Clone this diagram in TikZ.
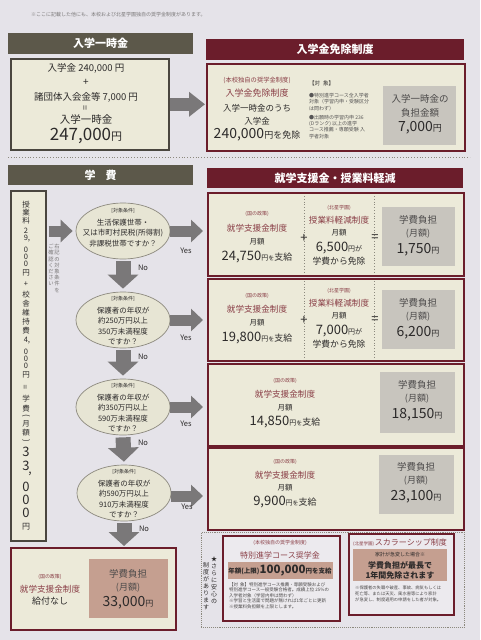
\documentclass[tikz,border=0pt]{standalone}
\usepackage{fontspec}
\setmainfont{Noto Sans CJK JP}
\usetikzlibrary{shapes.geometric,arrows.meta}
\definecolor{bg}{HTML}{E5E3E9}
\definecolor{beige}{HTML}{ECEAD9}
\definecolor{maroon}{HTML}{6B1D2B}
\definecolor{olive}{HTML}{5C584A}
\definecolor{graybox}{HTML}{C8C5BE}
\definecolor{tanbox}{HTML}{C59F90}
\definecolor{ink}{HTML}{2C2A2A}
\definecolor{redtext}{HTML}{8A3F47}
\definecolor{agray}{HTML}{7A7879}
\definecolor{ellfill}{HTML}{E7E5D4}
\definecolor{ellline}{HTML}{8C897E}
\definecolor{darkline}{HTML}{4A463F}
\definecolor{notegray}{HTML}{7A7878}
\definecolor{innerfill}{HTML}{ECEAEE}
\newcommand\myfs[1]{\fontsize{#1}{#1}\selectfont}
\tikzset{
  every node/.style={inner sep=0pt, text=ink},
  hdrO/.style={fill=olive, text=white, font=\myfs{11}\bfseries, minimum height=21pt, anchor=north west},
  hdrM/.style={fill=maroon, text=white, font=\myfs{11}\bfseries, minimum height=21pt, anchor=north west},
  dbox/.style={draw=darkline, line width=1.6pt, fill=beige, anchor=north west},
  mbox/.style={draw=maroon, line width=1.6pt, fill=beige, anchor=north west},
  ibox/.style={draw=maroon, line width=1.5pt, fill=innerfill, anchor=north west},
  gbox/.style={fill=graybox, anchor=north west},
  tbox/.style={fill=tanbox, anchor=north west},
  ell/.style={ellipse, draw=ellline, fill=ellfill, line width=0.7pt, minimum width=94pt, minimum height=56pt},
  topfat/.style={draw=agray, line width=13pt, -{Triangle[length=16pt,width=24pt]}},
  hfat/.style={draw=agray, line width=11pt, -{Triangle[length=12pt,width=22pt]}},
  vfat/.style={draw=agray, line width=15pt, -{Triangle[length=14pt,width=30pt]}},
  rlab/.style={text=redtext},
  tagf/.style={font=\myfs{5}},
  ttl/.style={font=\myfs{8.6}, text=redtext},
  mon/.style={font=\myfs{7.5}},
  gtx/.style={font=\myfs{9.5}, text=ink!85},
  yn/.style={font=\myfs{7.5}},
  etag/.style={font=\myfs{5}},
  ebody/.style={font=\fontsize{7.5}{10.5}\selectfont, align=center},
  sep/.style={draw=ellline, dotted, line width=0.8pt},
}
\begin{document}
\begin{tikzpicture}[x=1pt,y=-1pt]
\useasboundingbox (0,0) rectangle (480,640);
\fill[bg] (0,0) rectangle (480,640);

% note
\node[anchor=west, font=\myfs{5}, text=notegray] (note) at (31,15) {※ここに記載した他にも、本校および北星学園独自の奨学金制度があります。};

% ===== section 1 =====
\node[hdrO, minimum width=185pt] (h1) at (8,33) {入学一時金};
\node[hdrM, minimum width=258pt] (h2) at (206,39) {入学金免除制度};

\node[dbox, minimum width=158pt, minimum height=91pt] (tl) at (10,58) {};
\node[font=\myfs{9.5}] (t1) at (86,68) {入学金 240,000 円};
\node[font=\myfs{10}] (t2) at (86,82) {+};
\node[font=\myfs{9.5}] (t3) at (86,97) {諸団体入会金等 7,000 円};
\node[font=\myfs{9}] (t4) at (86,108) {\rotatebox{90}{=}};
\node[font=\myfs{10.5}] (t5) at (86,119) {入学一時金};
\node (t6) at (86,136) {\myfs{17}247,000\myfs{11}円};

\node[mbox, minimum width=258pt, minimum height=87pt] (tr) at (206,63) {};
\node[font=\myfs{6.3}, rlab] (a1) at (257,80) {(本校独自の奨学金制度)};
\node[font=\myfs{9}, rlab] (a2) at (257,93) {入学金免除制度};
\node[font=\myfs{8.5}] (a3) at (257,108) {入学一時金のうち};
\node[font=\myfs{8.5}] (a4) at (257,121) {入学金};
\node (a5) at (257,135) {\myfs{14}240,000\myfs{9}円を免除};
\node[font=\myfs{5.5}, anchor=west] (a6) at (309,83) {【対\hspace{3pt}象】};
\node[font=\fontsize{5}{6.3}\selectfont, align=left, anchor=north west, text=ink!80] (a7) at (309,93)
  {●特別進学コース全入学者\\対象（学習内申・受験区分\\は問わず）\\[3pt]●出願時の学習内申 236\\(Dランク) 以上の進学\\コース推薦・専願受験 入\\学者対象};
\node[gbox, minimum width=73pt, minimum height=59pt] (g0) at (383,86) {};
\node[gtx] (g0a) at (420,99) {入学一時金の};
\node[gtx] (g0b) at (420,113) {負担金額};
\node (g0c) at (420,128) {\myfs{14}7,000\myfs{9}円};

\draw[topfat, shorten >=1pt] (tl.east) -- (tl.east -| tr.west);

\draw[sep] (8,157) -- (470,157);

% ===== section 2 =====
\node[hdrO, minimum width=185pt, minimum height=20pt] (h3) at (8,165) {学\hspace{10pt}費};
\node[hdrM, minimum width=256pt, minimum height=20pt] (h4) at (207,168) {就学支援金・授業料軽減};

% left vertical box
\node[dbox, minimum width=35pt, minimum height=350pt] (vb) at (10,190) {};
\foreach \ch/\yy [count=\i] in {授/205,業/213,料/221,2/231,9/238,0/250,0/257,0/264,円/273,+/284,校/295,舎/304,維/313,持/322,費/331,4/340,0/352,0/359,0/366,円/375,学/399,費/409,月/424,額/433}
  \node[font=\myfs{7.5}] (v\i) at (26,\yy) {\ch};
\node[font=\myfs{8}] (vc1) at (29,241) {,};
\node[font=\myfs{8}] (vc2) at (29,343) {,};
\node[font=\myfs{8}] (veq) at (26,387) {\rotatebox{90}{=}};
\node[font=\myfs{8}] (vp1) at (26,416) {\rotatebox{-90}{(}};
\node[font=\myfs{8}] (vp2) at (26,441) {\rotatebox{-90}{)}};
\foreach \ch/\yy [count=\i] in {3/452,3/466,0/487,0/500,0/513}
  \node[font=\myfs{13}] (w\i) at (26,\yy) {\ch};
\node[font=\myfs{12}] (wc) at (30,474) {,};
\node[font=\myfs{8}] (wy) at (26,527) {円};

% hint
\node[font=\fontsize{5.3}{6.2}\selectfont, align=center, text=notegray, anchor=north] (hint1) at (57,244) {右\\記\\の\\対\\象\\条\\件\\を};
\node[font=\fontsize{5.3}{6.2}\selectfont, align=center, text=notegray, anchor=north] (hint2) at (51,244) {ご\\確\\認\\く\\だ\\さ\\い};

% ellipses
\node[ell] (E1) at (123,231) {};
\node[etag] (E1t) at (123,211) {[対象条件]};
\node[ebody] (E1b) at (123,233) {生活保護世帯・\\又は市町村民税(所得割)\\非課税世帯ですか？};

\node[ell] (E2) at (123,320) {};
\node[etag] (E2t) at (123,299) {[対象条件]};
\node[ebody] (E2b) at (123,326) {保護者の年収が\\約250万円以上\\350万未満程度\\ですか？};

\node[ell] (E3) at (123,407) {};
\node[etag] (E3t) at (123,386) {[対象条件]};
\node[ebody] (E3b) at (123,413) {保護者の年収が\\約350万円以上\\590万未満程度\\ですか？};

\node[ell] (E4) at (124,493) {};
\node[etag] (E4t) at (124,472) {[対象条件]};
\node[ebody] (E4b) at (124,499) {保護者の年収が\\約590万円以上\\910万未満程度\\ですか？};

% right boxes
\node[mbox, minimum width=256pt, minimum height=83pt] (R1) at (207,192) {};
\node[mbox, minimum width=256pt, minimum height=82pt] (R2) at (207,278) {};
\node[mbox, minimum width=256pt, minimum height=82pt] (R3) at (207,363) {};
\node[mbox, minimum width=256pt, minimum height=82pt] (R4) at (207,447) {};

% R1
\draw[sep] (304,196) -- (304,272);
\draw[sep] (374,196) -- (374,272);
\node[tagf, rlab] (r1a) at (257,214) {(国の政策)};
\node[ttl] (r1b) at (257,228) {就学支援金制度};
\node[mon] (r1c) at (257,242) {月額};
\node (r1d) at (257,257) {\myfs{13}24,750\myfs{7}円\myfs{6}を\myfs{9}支給};
\node[font=\myfs{13}] (r1p) at (304,238) {+};
\node[tagf, rlab] (r1e) at (339,208) {(北星学園)};
\node[ttl] (r1f) at (339,220) {授業料軽減制度};
\node[mon] (r1g) at (339,233) {月額};
\node (r1h) at (339,248) {\myfs{13}6,500\myfs{7}円が};
\node[font=\myfs{8.8}] (r1i) at (339,261) {学費から免除};
\node[font=\myfs{13}] (r1q) at (375,238) {=};
\node[gbox, minimum width=73pt, minimum height=59pt] (g1) at (382,207) {};
\node[gtx] (g1a) at (418,220) {学費負担};
\node[gtx, font=\myfs{9}] (g1b) at (418,234) {(月額)};
\node (g1c) at (418,250) {\myfs{14}1,750\myfs{8}円};

% R2
\draw[sep] (304,281) -- (304,357);
\draw[sep] (374,281) -- (374,357);
\node[tagf, rlab] (r2a) at (257,296) {(国の政策)};
\node[ttl] (r2b) at (257,309) {就学支援金制度};
\node[mon] (r2c) at (257,323) {月額};
\node (r2d) at (257,338) {\myfs{13}19,800\myfs{7}円\myfs{6}を\myfs{9}支給};
\node[font=\myfs{13}] (r2p) at (304,320) {+};
\node[tagf, rlab] (r2e) at (339,291) {(北星学園)};
\node[ttl] (r2f) at (339,303) {授業料軽減制度};
\node[mon] (r2g) at (339,316) {月額};
\node (r2h) at (339,331) {\myfs{13}7,000\myfs{7}円が};
\node[font=\myfs{8.8}] (r2i) at (339,344) {学費から免除};
\node[font=\myfs{13}] (r2q) at (375,320) {=};
\node[gbox, minimum width=73pt, minimum height=59pt] (g2) at (382,290) {};
\node[gtx] (g2a) at (418,303) {学費負担};
\node[gtx, font=\myfs{9}] (g2b) at (418,317) {(月額)};
\node (g2c) at (418,333) {\myfs{14}6,200\myfs{8}円};

% R3
\node[tagf, rlab] (r3a) at (285,381) {(国の政策)};
\node[ttl] (r3b) at (285,394) {就学支援金制度};
\node[mon] (r3c) at (285,408) {月額};
\node (r3d) at (285,422) {\myfs{13}14,850\myfs{7}円\myfs{6}を\myfs{9}支給};
\node[gbox, minimum width=75pt, minimum height=61pt] (g3) at (380,372) {};
\node[gtx] (g3a) at (417,385) {学費負担};
\node[gtx, font=\myfs{9}] (g3b) at (417,399) {(月額)};
\node (g3c) at (417,415) {\myfs{14}18,150\myfs{8}円};

% R4
\node[tagf, rlab] (r4a) at (285,462) {(国の政策)};
\node[ttl] (r4b) at (285,475) {就学支援金制度};
\node[mon] (r4c) at (285,488) {月額};
\node (r4d) at (285,502) {\myfs{13}9,900\myfs{7}円\myfs{6}を\myfs{9}支給};
\node[gbox, minimum width=75pt, minimum height=59pt] (g4) at (379,455) {};
\node[gtx] (g4a) at (416,467) {学費負担};
\node[gtx, font=\myfs{9}] (g4b) at (416,481) {(月額)};
\node (g4c) at (416,497) {\myfs{14}23,100\myfs{8}円};

% bottom-left box
\node[mbox, minimum width=165pt, minimum height=82pt] (B) at (10,547) {};
\node[tagf, rlab] (b1) at (50,577) {(国の政策)};
\node[ttl] (b2) at (50,589) {就学支援金制度};
\node[font=\myfs{9}] (b3) at (50,601) {給付なし};
\node[tbox, minimum width=79pt, minimum height=59pt] (bt) at (89,559) {};
\node[gtx] (bt1) at (128,574) {学費負担};
\node[gtx, font=\myfs{9}] (bt2) at (128,588) {(月額)};
\node (bt3) at (128,603) {\myfs{14}33,000\myfs{8}円};

% arrows
\draw[hfat, shorten <=2pt, shorten >=3pt] (vb.east |- E1.west) -- (E1.west);
\draw[hfat, shorten >=4pt] (E1.east) -- (E1.east -| R1.west);
\draw[hfat, shorten >=4pt] (E2.east) -- (E2.east -| R2.west);
\draw[hfat, shorten >=4pt] (E3.east) -- (E3.east -| R3.west);
\draw[hfat, shorten >=4pt] ([yshift=-3pt]E4.east) -- ([yshift=-3pt]E4.east -| R4.west);
\draw[vfat, shorten <=2pt, shorten >=3pt] (E1.south) -- (E2.north);
\draw[vfat, shorten <=2pt, shorten >=3pt] (E2.south) -- (E3.north);
\draw[vfat, shorten <=2pt, shorten >=3pt] (E3.south) -- (E4.north);
\draw[vfat, shorten <=2pt, shorten >=1pt] (E4.south) -- (E4.south |- B.north);

\node[yn] (Y1) at (186,251) {Yes};
\node[yn] (N1) at (143,268) {No};
\node[yn] (Y2) at (186,338) {Yes};
\node[yn] (N2) at (143,357) {No};
\node[yn] (Y3) at (186,424) {Yes};
\node[yn] (N3) at (143,443) {No};
\node[yn] (Y4) at (187,507) {Yes};
\node[yn] (N4) at (144,529) {No};

% extra schemes
\node[draw=ellline, densely dotted, line width=0.9pt, minimum width=263pt, minimum height=95pt, anchor=north west] (D) at (201,532) {};
\node[font=\fontsize{6}{7}\selectfont, align=center, anchor=north] (st1) at (214,556) {★\\さ\\ら\\に\\安\\心\\の};
\node[font=\fontsize{6}{7}\selectfont, align=center, anchor=north] (st2) at (206,562) {制\\度\\が\\あ\\り\\ま\\す};

\node[ibox, minimum width=117pt, minimum height=85pt] (I1) at (222,535) {};
\node[font=\myfs{5}, rlab] (i1a) at (280,543) {(本校独自の奨学金制度)};
\node[font=\myfs{8}, rlab] (i1b) at (280,555) {特別進学コース奨学金};
\node[tbox, minimum width=105pt, minimum height=17pt] (i1t) at (228,562) {};
\node[font=\bfseries] (i1c) at (280,571) {\myfs{6.5}年額(上限)\myfs{11.5}100,000\myfs{6.5}円を支給};
\node[font=\fontsize{4.5}{5.6}\selectfont, align=left, anchor=north west, text=ink!85] (i1d) at (229,582)
  {【対\hspace{2pt}象】特別進学コース推薦・専願受験および\\特別進学コース一般受験合格者。成績上位 25\%の\\入学者対象（学習内申は問わず）\\※学習と生活面で問題が無ければ1年ごとに更新\\※授業料負担額を上限とします。};

\node[ibox, minimum width=105pt, minimum height=81pt] (I2) at (348,533) {};
\node[rlab] (i2a) at (400,543) {\myfs{4.5}(北星学園)\,\myfs{8}スカラーシップ制度};
\node[tbox, minimum width=94pt, minimum height=32pt] (i2t) at (353,549) {};
\node[font=\myfs{5}] (i2b) at (400,555) {家計が急変した場合※};
\node[font=\myfs{8}\bfseries] (i2c) at (400,565) {学費負担が最長で};
\node[font=\myfs{8}\bfseries] (i2d) at (400,575) {1年間免除されます};
\node[font=\fontsize{4.3}{5.6}\selectfont, align=left, anchor=north west, text=ink!85] (i2e) at (355,586)
  {※保護者の失職や破産、事故、病気もしくは\\死亡等、または天災、風水害等により家計\\が急変し、制度適用の申請をした者が対象。};
\end{tikzpicture}
\end{document}
